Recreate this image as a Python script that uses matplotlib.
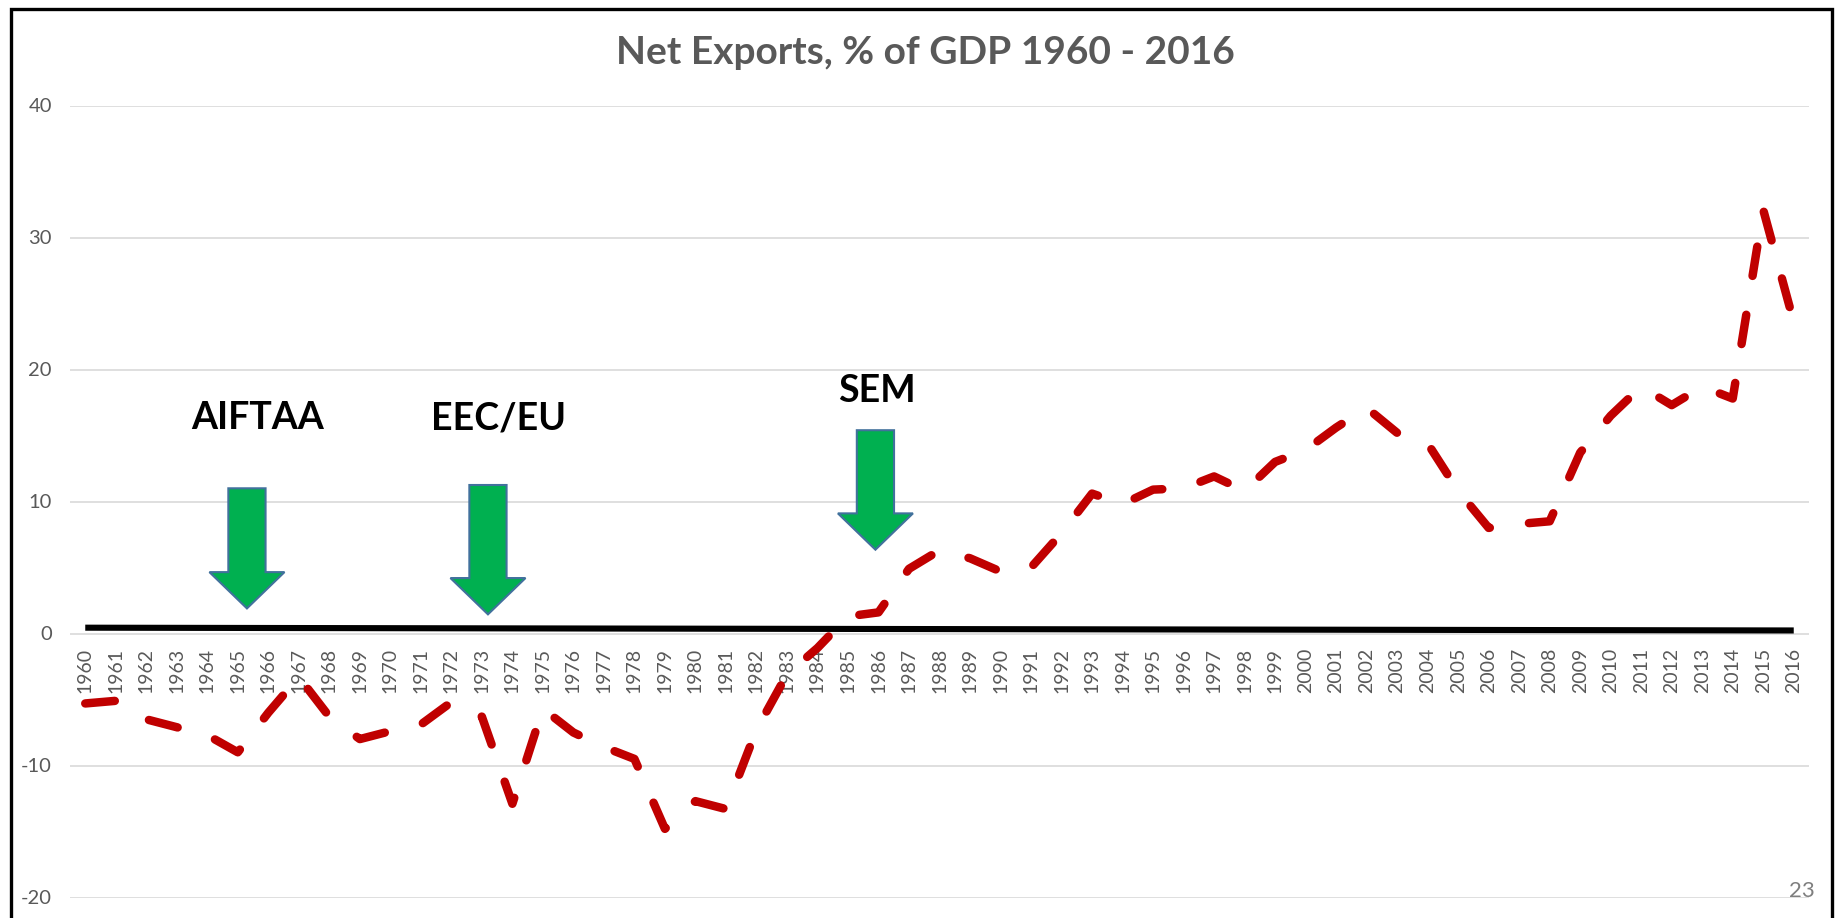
import matplotlib
matplotlib.use("Agg")
import matplotlib.pyplot as plt
from matplotlib.patches import Polygon, Rectangle

# ---------------- data ----------------
years = list(range(1960, 2017))
net_exports = [
    -5.3, -5.1, -6.5, -7.1, -7.7, -9.0, -6.0, -3.3, -6.3, -8.0,   # 1960-1969
    -7.4, -6.9, -5.2, -6.3, -12.9, -5.7, -7.5, -8.6, -9.5, -14.8,  # 1970-1979
    -12.7, -13.3, -7.3, -3.1, -1.1, 1.3, 1.6, 4.9, 6.3, 5.7,       # 1980-1989
    4.7, 5.0, 7.6, 10.6, 9.8, 10.9, 11.0, 11.9, 10.8, 13.0,        # 1990-1999
    13.9, 15.6, 17.1, 15.2, 14.4, 10.8, 8.0, 8.3, 8.5, 13.7,       # 2000-2009
    16.5, 18.7, 17.3, 18.7, 17.8, 32.1, 23.6,                      # 2010-2016
]
baseline_years = [1960, 2016]
baseline_values = [0.44, 0.23]

event_labels = ["AIFTAA", "EEC/EU", "SEM"]
event_years = [1965.3, 1973.2, 1985.9]
arrow_tops = [11.0, 11.25, 15.4]
arrow_tips = [1.9, 1.45, 6.35]
label_years = [1965.65, 1973.55, 1985.95]
label_values = [16.3, 16.3, 18.4]

title = "Net Exports, % of GDP 1960 - 2016"
y_ticks = [-20, -10, 0, 10, 20, 30, 40]
page_number = "23"

# ---------------- figure ----------------
W, H = 1837, 918
fig = plt.figure(figsize=(W / 100, H / 100), dpi=100)
fig.patch.set_facecolor("white")

left_px, right_px, top_px, bottom_px = 70, 1809, 105.5, 897.5
ax = fig.add_axes([left_px / W, 1 - bottom_px / H,
                   (right_px - left_px) / W, (bottom_px - top_px) / H])
ax.set_facecolor("white")

for side in ["top", "right", "left"]:
    ax.spines[side].set_visible(False)
ax.spines["bottom"].set_position(("data", 0))
ax.spines["bottom"].set_color("none")

ax.set_xlim(years[0] - 0.5, years[-1] + 0.5)
ax.set_ylim(-20, 40)

tick_font = "Lato"
grey = "#595959"

ax.set_yticks(y_ticks)
ax.set_yticklabels([str(v) for v in y_ticks])
ax.set_xticks(years)
ax.set_xticklabels([str(y) for y in years])
ax.tick_params(axis="y", length=0, pad=13, labelsize=14.5, labelcolor=grey)
ax.tick_params(axis="x", length=0, pad=10.4, labelsize=14,
               labelcolor=grey, labelrotation=90)
for lab in ax.get_xticklabels() + ax.get_yticklabels():
    lab.set_family(tick_font)

ax.yaxis.grid(True, color="#D9D9D9", linewidth=1.2)
ax.set_axisbelow(True)

# black reference line
ax.plot(baseline_years, baseline_values, color="black", linewidth=4.4,
        solid_capstyle="butt", zorder=3)

# red dashed net exports line
lw = 6.1
ax.plot(years, net_exports, color="#C00000", linewidth=lw,
        linestyle=(0, (3.5, 4.65)), dash_capstyle="round",
        dash_joinstyle="round", zorder=4)

# green arrows
shaft_half = 0.61
head_half = 1.23
head_len = 2.75
for xc, top, tip in zip(event_years, arrow_tops, arrow_tips):
    base = tip + head_len
    verts = [(xc - shaft_half, top), (xc + shaft_half, top),
             (xc + shaft_half, base), (xc + head_half, base),
             (xc, tip), (xc - head_half, base), (xc - shaft_half, base)]
    ax.add_patch(Polygon(verts, closed=True, facecolor="#00B050",
                         edgecolor="#41719C", linewidth=1.5, zorder=5))

for lab, xl, yl in zip(event_labels, label_years, label_values):
    ax.text(xl, yl, lab, ha="center", va="center", fontsize=27,
            fontweight="bold", family="Lato", color="black", zorder=6)

# title
fig.text(925 / W, 1 - 53 / H, title, ha="center", va="center",
         fontsize=28, fontweight="bold", family="Lato", color=grey)

# page number
fig.text(1815 / W, 1 - 891 / H, page_number, ha="right", va="center",
         fontsize=16, family="Lato", color="#7F7F7F")

# slide frame
fig.add_artist(Rectangle((11 / W, -0.05), (1832 - 11) / W,
                         1.05 - 8.5 / H, transform=fig.transFigure,
                         fill=False, edgecolor="black", linewidth=2.4,
                         clip_on=False))

fig.savefig("out.png", dpi=100)
